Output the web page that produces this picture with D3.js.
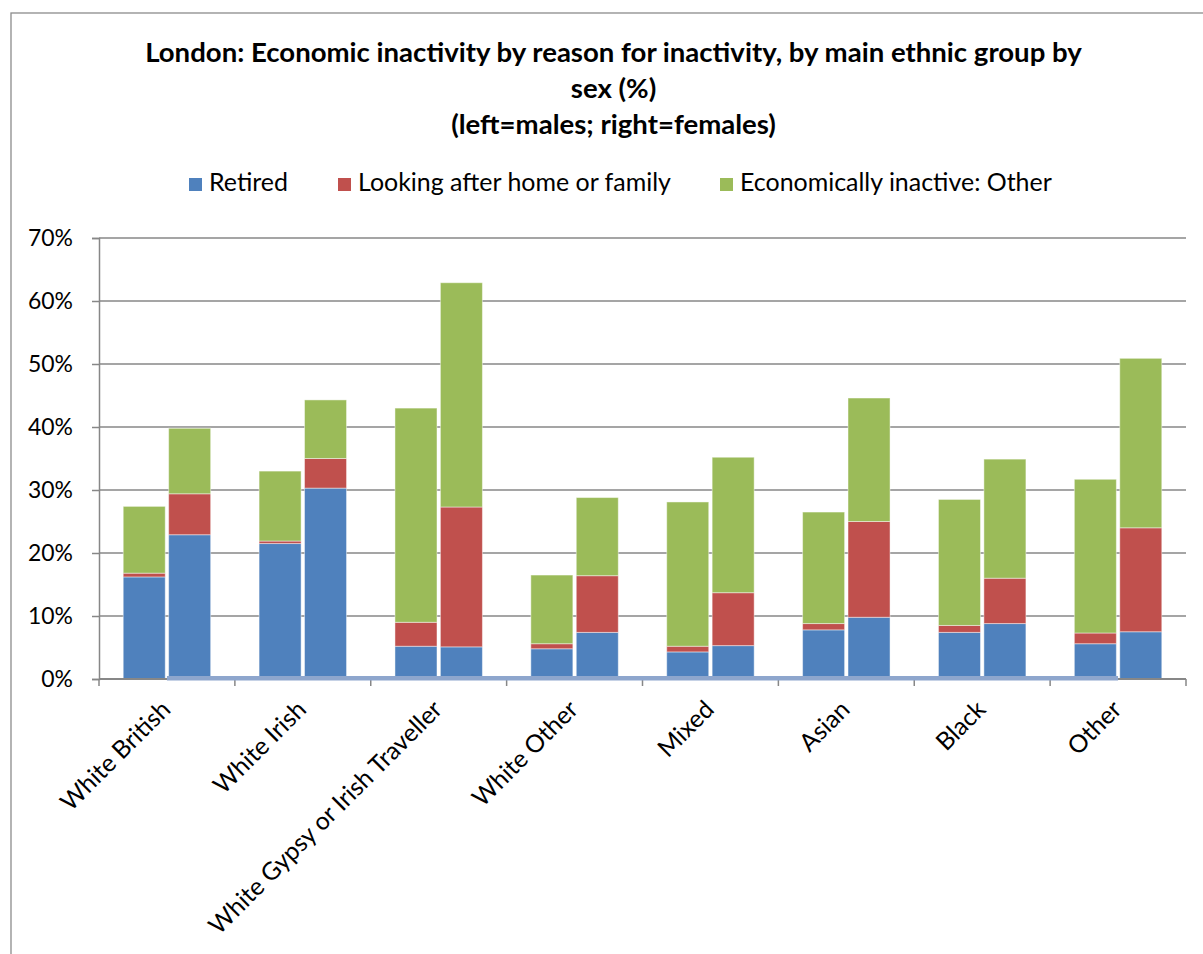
<!DOCTYPE html>
<html>
<head>
<meta charset="utf-8">
<script src="https://cdn.jsdelivr.net/npm/d3@7/dist/d3.min.js"></script>
<style>
  html, body { margin: 0; padding: 0; background: #fff; }
  svg { display: block; }
  text { font-family: Lato, "Noto Sans", sans-serif; fill: #000; }
</style>
</head>
<body>
<svg id="chart" width="1203" height="954"></svg>
<script>
// Ethnic groups along the x axis
const categories = ["White British", "White Irish", "White Gypsy or Irish Traveller",
  "White Other", "Mixed", "Asian", "Black", "Other"];

// Reasons for inactivity (stack order, bottom to top)
const seriesNames = ["Retired", "Looking after home or family", "Economically inactive: Other"];
const seriesColors = ["#4F81BD", "#C0504D", "#9BBB59"];

// Males (left bar of each pair), % of group
const maleRetired = [16.2, 21.5, 5.2, 4.8, 4.3, 7.8, 7.4, 5.6];
const maleHomeFamily = [0.6, 0.4, 3.8, 0.8, 0.9, 1.0, 1.1, 1.7];
const maleOther = [10.6, 11.1, 34.0, 10.9, 22.9, 17.7, 20.0, 24.4];

// Females (right bar of each pair), % of group
const femaleRetired = [22.9, 30.3, 5.1, 7.4, 5.3, 9.8, 8.8, 7.5];
const femaleHomeFamily = [6.5, 4.7, 22.2, 9.0, 8.4, 15.2, 7.2, 16.5];
const femaleOther = [10.4, 9.3, 35.6, 12.4, 21.5, 19.6, 18.9, 26.9];

// Zero-valued line series running across the category centres
const baselineSeries = [0, 0, 0, 0, 0, 0, 0, 0];

// Y axis ticks
const yTicks = [0, 10, 20, 30, 40, 50, 60, 70];

const titleLines = [
  "London: Economic inactivity by reason for inactivity, by main ethnic group by",
  "sex (%)",
  "(left=males; right=females)"
];

const svg = d3.select("#chart");

// Outer chart frame
svg.append("rect")
  .attr("x", 11).attr("y", 13)
  .attr("width", 1400).attr("height", 1200)
  .attr("fill", "none").attr("stroke", "#8c8c8c").attr("stroke-width", 1.3);

const plot = { left: 99, right: 1186, top: 238, bottom: 679 };

const x = d3.scaleBand().domain(categories).range([plot.left, plot.right]).padding(0);
const sex = d3.scaleBand().domain(["M", "F"]).range([0, x.bandwidth()])
  .paddingInner(0.075).paddingOuter(0.533);
const y = d3.scaleLinear().domain([0, 70]).range([plot.bottom, plot.top]);

// Gridlines
svg.append("g")
  .selectAll("line").data(yTicks.filter(d => d > 0)).join("line")
  .attr("x1", plot.left).attr("x2", plot.right)
  .attr("y1", d => y(d)).attr("y2", d => y(d))
  .attr("stroke", "#878787").attr("stroke-width", 1.5);

// Stacked bars
const stackKeys = ["r", "h", "o"];
const rows = [];
categories.forEach((c, i) => {
  rows.push({ cat: c, sex: "M", r: maleRetired[i], h: maleHomeFamily[i], o: maleOther[i] });
  rows.push({ cat: c, sex: "F", r: femaleRetired[i], h: femaleHomeFamily[i], o: femaleOther[i] });
});
const stacked = d3.stack().keys(stackKeys)(rows);

svg.append("g").selectAll("g").data(stacked).join("g")
  .attr("fill", (d, i) => seriesColors[i])
  .selectAll("rect").data(d => d).join("rect")
  .attr("x", d => x(d.data.cat) + sex(d.data.sex))
  .attr("width", sex.bandwidth())
  .attr("y", d => y(d[1]))
  .attr("height", d => y(d[0]) - y(d[1]))
  .attr("stroke", "rgba(255,255,255,0.45)")
  .attr("stroke-width", 1);

// Y axis
const yAxis = svg.append("g").attr("transform", `translate(${plot.left},0)`)
  .call(d3.axisLeft(y).tickValues(yTicks).tickFormat(d => d + "%").tickSize(7).tickPadding(19));
yAxis.select(".domain").attr("stroke", "#878787").attr("stroke-width", 1.5);
yAxis.selectAll(".tick line").attr("stroke", "#878787").attr("stroke-width", 1.5);
yAxis.selectAll(".tick text")
  .attr("font-family", "Lato, sans-serif")
  .attr("font-size", 21).attr("fill", "#000");
{
  // size the tick labels so "70%" spans its measured width
  const n = yAxis.selectAll(".tick text").filter(d => d === 70).node();
  const len = n.getComputedTextLength();
  yAxis.selectAll(".tick text").attr("font-size", 21 * 45 / len);
}

// X axis with ticks at category boundaries
const xAxisG = svg.append("g");
xAxisG.append("line")
  .attr("x1", plot.left).attr("x2", plot.right)
  .attr("y1", plot.bottom).attr("y2", plot.bottom)
  .attr("stroke", "#878787").attr("stroke-width", 1.8);
const boundaries = categories.map(c => x(c)).concat([x(categories[categories.length - 1]) + x.bandwidth()]);
xAxisG.selectAll("line.tk").data(boundaries).join("line").attr("class", "tk")
  .attr("x1", d => d).attr("x2", d => d)
  .attr("y1", plot.bottom).attr("y2", plot.bottom + 7)
  .attr("stroke", "#878787").attr("stroke-width", 1.5);

// Zero line series over the bars
svg.append("path")
  .datum(baselineSeries)
  .attr("d", d3.line().x((d, i) => x(categories[i]) + x.bandwidth() / 2).y(d => y(d) - 0.7))
  .attr("fill", "none").attr("stroke", "#8EA6CD").attr("stroke-width", 4.5);

// Category labels, rotated
const xl = svg.append("g").selectAll("text").data(categories).join("text")
  .attr("transform", d => `translate(${x(d) + x.bandwidth() / 2 + 5},711) rotate(-45)`)
  .attr("text-anchor", "end")
  .attr("font-size", 21)
  .text(d => d);
// Scale the label font so the longest label spans its measured length
{
  const n = xl.filter(d => d === "White Gypsy or Irish Traveller").node();
  const len = n.getComputedTextLength();
  xl.attr("font-size", 21 * 318 / len);
}

// Title
const title = svg.append("g").selectAll("text").data(titleLines).join("text")
  .attr("x", 613.5).attr("y", (d, i) => 62 + i * 36)
  .attr("text-anchor", "middle").attr("font-weight", "bold").attr("font-size", 24)
  .text(d => d);
{
  const len = title.filter((d, i) => i === 0).node().getComputedTextLength();
  title.attr("font-size", 24 * 937 / len);
}

// Legend
const legendX = [189, 338, 720];
const leg = svg.append("g").selectAll("g").data(seriesNames).join("g")
  .attr("transform", (d, i) => `translate(${legendX[i]},0)`);
leg.append("rect").attr("x", 0).attr("y", 178).attr("width", 13).attr("height", 13)
  .attr("fill", (d, i) => seriesColors[i]);
const legText = leg.append("text").attr("x", 20).attr("y", 191).attr("font-size", 22).text(d => d);
{
  const len = legText.filter((d, i) => i === 1).node().getComputedTextLength();
  legText.attr("font-size", 22 * 313 / len);
}
</script>
</body>
</html>
